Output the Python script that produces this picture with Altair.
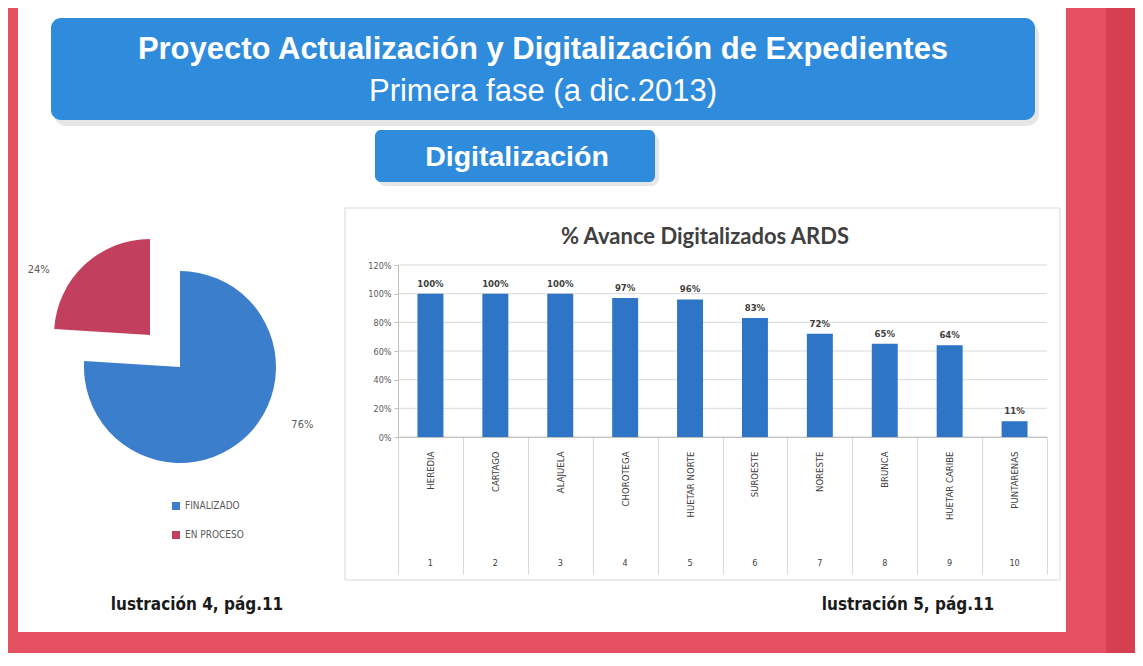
import altair as alt
import pandas as pd

# ---------------- data ----------------
regions = ["HEREDIA", "CARTAGO", "ALAJUELA", "CHOROTEGA", "HUETAR NORTE",
           "SUROESTE", "NORESTE", "BRUNCA", "HUETAR CARIBE", "PUNTARENAS"]
region_nums = ["1", "2", "3", "4", "5", "6", "7", "8", "9", "10"]
avance = [100, 100, 100, 97, 96, 83, 72, 65, 64, 11]
y_ticks = [0, 20, 40, 60, 80, 100, 120]

pie_cats = ["FINALIZADO", "EN PROCESO"]
pie_vals = [76, 24]

header_lines = ["Proyecto Actualización y Digitalización de Expedientes",
                "Primera fase (a dic.2013)"]
section_title = ["Digitalización"]
bar_title = ["% Avance Digitalizados ARDS"]
footer_left = ["lustración 4, pág.11"]
footer_right = ["lustración 5, pág.11"]

# ---------------- tables ----------------
bars_df = pd.DataFrame({
    "region": regions,
    "num": region_nums,
    "valor": avance,
    "etiqueta": [f"{v}%" for v in avance],
})
ticks_df = pd.DataFrame({"tick": y_ticks})
pie_df = pd.DataFrame({
    "estado": pie_cats,
    "valor": pie_vals,
    "orden": list(range(len(pie_cats))),
    "etiqueta": [f"{v}%" for v in pie_vals],
})

def txt(lines):
    return pd.DataFrame({"t": lines})

one = pd.DataFrame({"k": [0]})

# ---------------- layout / style ----------------
W, H = 1127, 645
RED = "#E4505F"
RED_DARK = "#D63F50"
BOX_BLUE = "#2F8BDB"
BAR_BLUE = "#2E75C6"
PIE_BLUE = "#3B7ECC"
PIE_RED = "#C23F5E"
GRID = "#D9D9D9"
AXIS = "#BFBFBF"
COND = "DejaVu Sans Condensed"

X0, X1 = 390, 1039      # bar category range
Y0, Y1 = 429, 257       # 0% .. 120%

def rect(x, x2, y, y2, **kw):
    return alt.Chart(one).mark_rect(**kw).encode(
        x=alt.value(x), x2=alt.value(x2), y=alt.value(y), y2=alt.value(y2))

def label(df, x, y, **kw):
    return alt.Chart(df).mark_text(**kw).encode(
        x=alt.value(x), y=alt.value(y), text="t:N")

# frame
frame_dark = rect(1098, W, 0, H, color=RED_DARK)
panel = rect(10, 1058, 0, 624, color="white")

# header boxes
hdr_shadow = rect(46, 1031, 15, 118, color="#9A9A9A", opacity=0.25, cornerRadius=12)
hdr_box = rect(43, 1027, 10, 112, color=BOX_BLUE, cornerRadius=10)
hdr1 = label(txt(header_lines[:1]), 535, 42, font="Liberation Sans", fontSize=31,
             fontWeight="bold", color="white", align="center", baseline="middle")
hdr2 = label(txt(header_lines[1:]), 535, 84, font="Liberation Sans", fontSize=31,
             color="white", align="center", baseline="middle")
sub_shadow = rect(370, 651, 126, 178, color="#9A9A9A", opacity=0.25, cornerRadius=8)
sub_box = rect(367, 647, 122, 174, color=BOX_BLUE, cornerRadius=6)
sub_txt = label(txt(section_title), 509, 149, font="Liberation Sans", fontSize=28.5,
                fontWeight="bold", color="white", align="center", baseline="middle")

# bar chart panel
bar_panel = rect(337, 1052, 200, 572, fill="white", stroke=GRID, strokeWidth=1)
bar_ttl = label(txt(bar_title), 697, 229, font="Lato", fontSize=22, fontWeight="bold",
                color="#404040", align="center", baseline="middle")

xscale = alt.Scale(domain=regions, range=[X0, X1], paddingInner=0, paddingOuter=0)
yscale = alt.Scale(domain=[0, 120], range=[Y0, Y1], nice=False, zero=True)

grid = alt.Chart(ticks_df).mark_rule(color=GRID, strokeWidth=1).encode(
    y=alt.Y("tick:Q", scale=yscale, title=None),
    x=alt.value(X0), x2=alt.value(X1))

y_axis = alt.Axis(orient="left", offset=-X0, values=y_ticks, grid=False, zindex=2,
                  labelExpr="datum.value + '%'", labelFontSize=9,
                  labelFont=COND, labelColor="#595959",
                  tickSize=4, tickColor=AXIS, domainColor=AXIS, labelPadding=3)
x_axis = alt.Axis(orient="bottom", offset=-(H - Y0), labelAngle=-90, zindex=2,
                  tickBand="extent", tickSize=137, tickColor=GRID,
                  domainColor=AXIS, labelPadding=-123, labelFontSize=9.5,
                  labelFont=COND, labelColor="#404040",
                  labelAlign="right", labelBaseline="middle")

bars = alt.Chart(bars_df).mark_bar(color=BAR_BLUE, width=alt.RelativeBandSize(0.4)).encode(
    x=alt.X("region:N", scale=xscale, sort=regions, title=None, axis=x_axis),
    y=alt.Y("valor:Q", scale=yscale, title=None, axis=y_axis))

bar_lbl = alt.Chart(bars_df).mark_text(
    font=COND, fontSize=9.5, fontWeight="bold", color="#404040",
    baseline="bottom", dy=-5).encode(
    x=alt.X("region:N", scale=xscale, sort=regions),
    y=alt.Y("valor:Q", scale=yscale),
    text="etiqueta:N")

nums = alt.Chart(bars_df).mark_text(
    font=COND, fontSize=9, color="#404040", baseline="middle").encode(
    x=alt.X("region:N", scale=xscale, sort=regions),
    y=alt.value(555),
    text="num:N")

# pie
AX, AY = 172, 359
BX, BY = 142, 327
R = 96
pie_color = alt.Color("estado:N", scale=alt.Scale(domain=pie_cats, range=[PIE_BLUE, PIE_RED]),
                      sort=pie_cats,
                      legend=alt.Legend(title=None, orient="none", legendX=163, legendY=493,
                                        symbolType="square", symbolSize=64,
                                        symbolStrokeWidth=0, labelFontSize=10,
                                        labelFont=COND,
                                        labelColor="#595959", rowPadding=19, padding=0))
pie_base = alt.Chart(pie_df).encode(
    theta=alt.Theta("valor:Q", stack=True),
    color=pie_color,
    order=alt.Order("orden:Q"))

is_fin = alt.datum.estado == pie_cats[0]
arc_a = pie_base.mark_arc(outerRadius=R).encode(
    x=alt.value(AX), y=alt.value(AY),
    opacity=alt.condition(is_fin, alt.value(1), alt.value(0)))
arc_b = pie_base.mark_arc(outerRadius=R).encode(
    x=alt.value(BX), y=alt.value(BY),
    opacity=alt.condition(is_fin, alt.value(0), alt.value(1)))
lbl_a = pie_base.mark_text(radius=132, dx=32, dy=-38, fontSize=11, font=COND).encode(
    x=alt.value(AX), y=alt.value(AY), text="etiqueta:N",
    color=alt.value("#595959"),
    opacity=alt.condition(is_fin, alt.value(1), alt.value(0)))
lbl_b = pie_base.mark_text(radius=129, dx=-23, dy=29, fontSize=11, font=COND).encode(
    x=alt.value(BX), y=alt.value(BY), text="etiqueta:N",
    color=alt.value("#595959"),
    opacity=alt.condition(is_fin, alt.value(0), alt.value(1)))

# footers
foot_l = label(txt(footer_left), 189, 597, font=COND, fontSize=17,
               fontWeight="bold", color="#1A1A1A", align="center", baseline="middle")
foot_r = label(txt(footer_right), 900, 597, font=COND, fontSize=17,
               fontWeight="bold", color="#1A1A1A", align="center", baseline="middle")

chart = alt.layer(
    frame_dark, panel,
    hdr_shadow, hdr_box, hdr1, hdr2,
    sub_shadow, sub_box, sub_txt,
    bar_panel, bar_ttl,
    grid, bars, bar_lbl, nums,
    arc_a, arc_b, lbl_a, lbl_b,
    foot_l, foot_r,
).properties(
    width=W, height=H,
    autosize=alt.AutoSizeParams(type="none"),
    padding=0,
    background=RED,
).configure_view(stroke=None)

chart.save("out.html", embed_options={"renderer": "svg", "actions": False})
